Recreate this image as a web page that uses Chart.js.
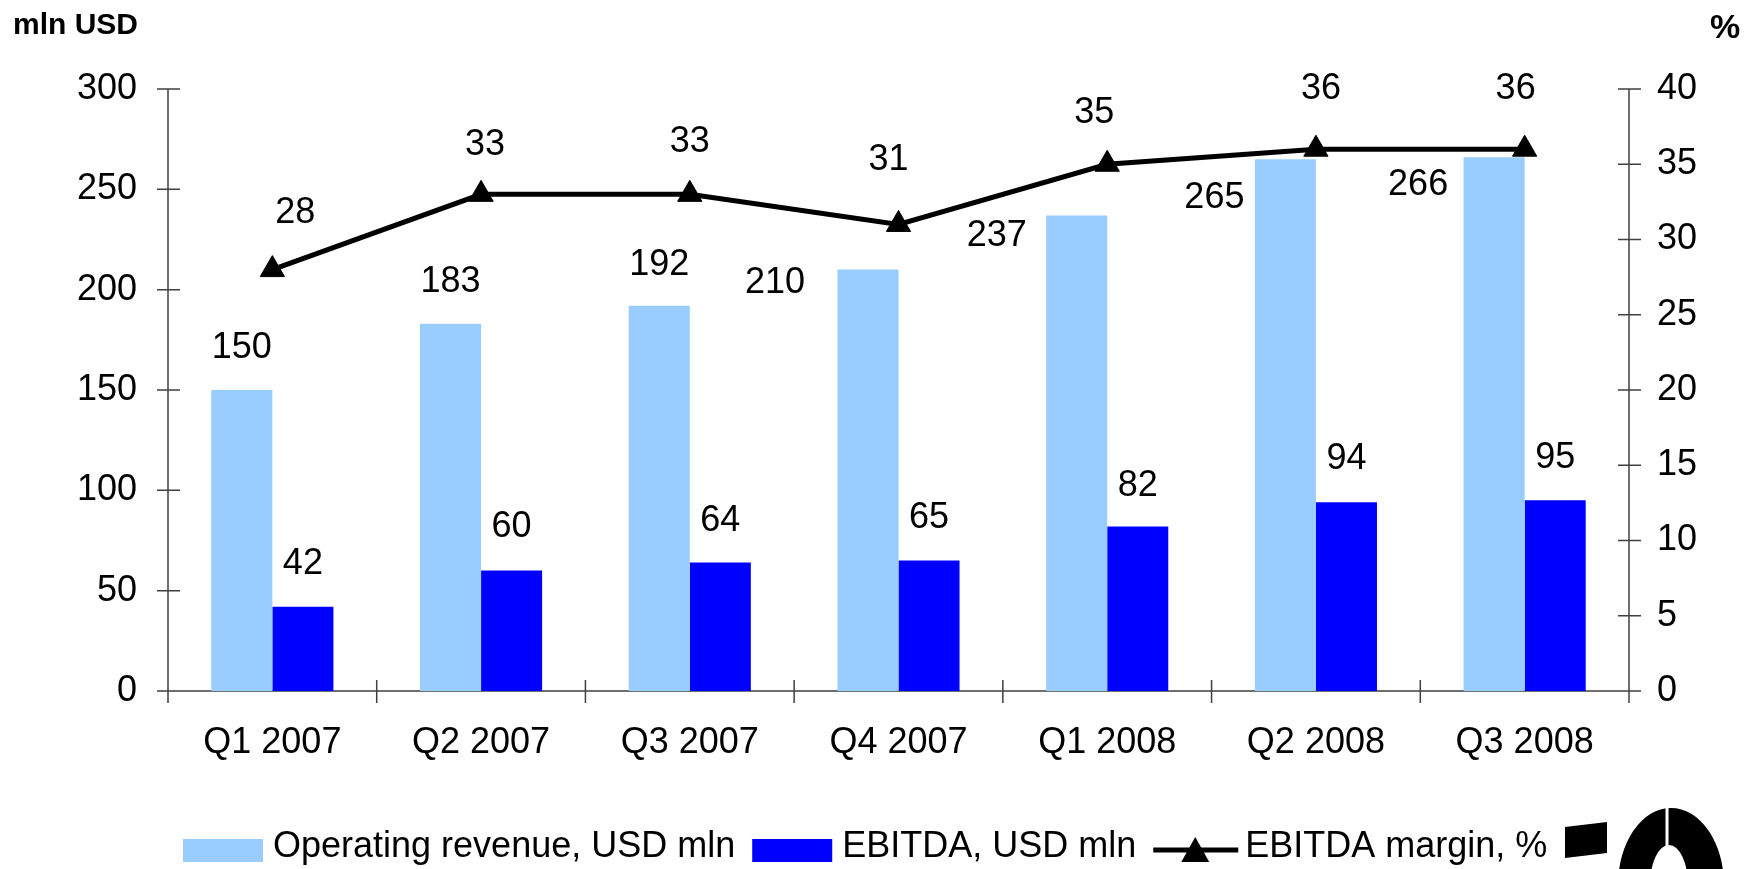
<!DOCTYPE html>
<html>
<head>
<meta charset="utf-8">
<script src="https://cdn.jsdelivr.net/npm/chart.js@4.4.0/dist/chart.umd.min.js"></script>
<style>
html, body { margin: 0; padding: 0; background: #fff; }
#wrap { width: 1755px; height: 869px; position: relative; }
</style>
</head>
<body>
<div id="wrap"><canvas id="chart"></canvas></div>
<script>
const quarters = ['Q1 2007', 'Q2 2007', 'Q3 2007', 'Q4 2007', 'Q1 2008', 'Q2 2008', 'Q3 2008'];
const revenue = [150, 183, 192, 210, 237, 265, 266];
const ebitda = [42, 60, 64, 65, 82, 94, 95];
const margin = [28, 33, 33, 31, 35, 36, 36];
const usdTicks = [0, 50, 100, 150, 200, 250, 300];
const pctTicks = [0, 5, 10, 15, 20, 25, 30, 35, 40];

// value labels were placed by hand in the original, offsets from the mark (px)
const revenueNudge = [[0, -42], [0, -42], [0, -41], [-93, 13], [-80, 21], [-71, 39], [-76, 28]];
const ebitdaNudge = [[0, -43], [0, -44], [0, -41], [0, -42], [0, -40], [0, -43], [0, -42]];
const marginNudge = [[23, -57], [4, -49], [0, -52], [-10, -64], [-13, -51], [5, -60], [-9, -60]];

const FONT = "'Liberation Sans', Arial, Helvetica, sans-serif";
const AXIS = '#404040';
const tickFont = { family: FONT, size: 36 };

// axis lines with ticks crossing them
const axesPlugin = {
    id: 'axes',
    beforeDatasetsDraw(chart) {
        const { ctx, chartArea: a, scales } = chart;
        ctx.save();
        ctx.strokeStyle = AXIS;
        ctx.lineWidth = 1.5;
        ctx.beginPath();
        ctx.moveTo(a.left, a.top); ctx.lineTo(a.left, a.bottom + 12);
        ctx.moveTo(a.right, a.top); ctx.lineTo(a.right, a.bottom + 12);
        ctx.moveTo(a.left - 11, a.bottom); ctx.lineTo(a.right + 12, a.bottom);
        scales.y.ticks.forEach(t => {
            const p = scales.y.getPixelForValue(t.value);
            ctx.moveTo(a.left - 11, p); ctx.lineTo(a.left + 12, p);
        });
        scales.y1.ticks.forEach(t => {
            const p = scales.y1.getPixelForValue(t.value);
            ctx.moveTo(a.right - 11, p); ctx.lineTo(a.right + 12, p);
        });
        for (let i = 0; i <= quarters.length; i++) {
            const p = scales.x.getPixelForValue(i - 0.5);
            ctx.moveTo(p, a.bottom - 11); ctx.lineTo(p, a.bottom + 12);
        }
        ctx.stroke();
        ctx.restore();
    }
};

const labelsPlugin = {
    id: 'valueLabels',
    afterDatasetsDraw(chart) {
        const ctx = chart.ctx;
        ctx.save();
        ctx.font = `36px ${FONT}`;
        ctx.fillStyle = '#000';
        ctx.textAlign = 'center';
        ctx.textBaseline = 'middle';
        chart.data.datasets.forEach((ds, di) => {
            chart.getDatasetMeta(di).data.forEach((el, i) => {
                const [dx, dy] = ds.nudge[i];
                ctx.fillText(String(ds.data[i]), el.x + dx, el.y + dy);
            });
        });
        ctx.restore();
    }
};

const legendPlugin = {
    id: 'legendRow',
    afterDraw(chart) {
        const ctx = chart.ctx;
        ctx.save();
        ctx.font = `36px ${FONT}`;
        ctx.textAlign = 'left';
        ctx.textBaseline = 'alphabetic';
        let x = 183;
        const mid = 850;
        chart.data.datasets.forEach(ds => {
            if (ds.type === 'line') {
                ctx.strokeStyle = '#000';
                ctx.lineWidth = 5;
                ctx.beginPath();
                ctx.moveTo(x, mid); ctx.lineTo(x + 85, mid);
                ctx.stroke();
                ctx.fillStyle = '#000';
                ctx.beginPath();
                ctx.moveTo(x + 42, mid - 13);
                ctx.lineTo(x + 56, mid + 12);
                ctx.lineTo(x + 28, mid + 12);
                ctx.closePath();
                ctx.fill();
                x += 92;
            } else {
                ctx.fillStyle = ds.backgroundColor;
                ctx.fillRect(x, 839, 80, 23);
                x += 90;
            }
            ctx.fillStyle = '#000';
            ctx.fillText(ds.label, x, 857);
            x += ctx.measureText(ds.label).width + 17;
        });
        ctx.restore();
    }
};

const extrasPlugin = {
    id: 'extras',
    afterDraw(chart) {
        const ctx = chart.ctx;
        ctx.save();
        ctx.fillStyle = '#000';
        ctx.textBaseline = 'alphabetic';
        ctx.font = `bold 30px ${FONT}`;
        ctx.textAlign = 'left';
        ctx.fillText('mln USD', 13, 34);
        ctx.font = `bold 34px ${FONT}`;
        ctx.textAlign = 'center';
        ctx.fillText('%', 1725, 38);

        // corner logo
        ctx.beginPath();
        ctx.moveTo(1565, 827); ctx.lineTo(1607, 822); ctx.lineTo(1607, 853); ctx.lineTo(1565, 858);
        ctx.closePath();
        ctx.fill();
        ctx.beginPath();
        ctx.ellipse(1671, 885, 53, 77, 0, 0, Math.PI * 2);
        ctx.ellipse(1669, 885, 19, 40, 0, 0, Math.PI * 2, true);
        ctx.fill('evenodd');
        ctx.fillStyle = '#fff';
        ctx.fillRect(1665.5, 800, 3, 50);
        ctx.restore();
    }
};

new Chart(document.getElementById('chart'), {
    type: 'bar',
    data: {
        labels: quarters,
        datasets: [
            {
                label: 'Operating revenue, USD mln',
                data: revenue,
                backgroundColor: '#99CCFF',
                yAxisID: 'y',
                order: 2,
                nudge: revenueNudge
            },
            {
                label: 'EBITDA, USD mln',
                data: ebitda,
                backgroundColor: '#0000FF',
                yAxisID: 'y',
                order: 2,
                nudge: ebitdaNudge
            },
            {
                type: 'line',
                label: 'EBITDA margin, %',
                data: margin,
                yAxisID: 'y1',
                borderColor: '#000',
                borderWidth: 5,
                pointStyle: 'triangle',
                pointRadius: 14,
                pointBackgroundColor: '#000',
                pointBorderColor: '#000',
                pointBorderWidth: 1,
                tension: 0,
                order: 0,
                nudge: marginNudge
            }
        ]
    },
    options: {
        responsive: true,
        maintainAspectRatio: false,
        animation: false,
        datasets: {
            bar: { categoryPercentage: 0.585, barPercentage: 1 }
        },
        layout: { padding: { top: 89, left: 0, right: 0, bottom: 0 } },
        plugins: {
            legend: { display: false },
            tooltip: { enabled: false }
        },
        scales: {
            x: {
                grid: { display: false, drawTicks: false },
                border: { display: false },
                ticks: { font: tickFont, color: '#000', padding: 30, maxRotation: 0, autoSkip: false },
                afterFit(s) { s.height = 178; }
            },
            y: {
                position: 'left',
                min: usdTicks[0],
                max: usdTicks[usdTicks.length - 1],
                grid: { display: false, drawTicks: false },
                border: { display: false },
                ticks: { stepSize: usdTicks[1] - usdTicks[0], font: tickFont, color: '#000', padding: 31 },
                afterFit(s) { s.width = 168; }
            },
            y1: {
                position: 'right',
                min: pctTicks[0],
                max: pctTicks[pctTicks.length - 1],
                grid: { display: false, drawTicks: false },
                border: { display: false },
                ticks: { stepSize: pctTicks[1] - pctTicks[0], font: tickFont, color: '#000', padding: 28 },
                afterFit(s) { s.width = 126; }
            }
        }
    },
    plugins: [axesPlugin, labelsPlugin, legendPlugin, extrasPlugin]
});
</script>
</body>
</html>
